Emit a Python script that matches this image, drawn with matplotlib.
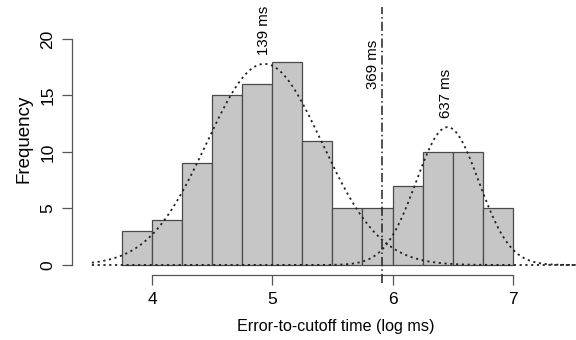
import numpy as np
import matplotlib
matplotlib.use("Agg")
import matplotlib.pyplot as plt

plt.rcParams['font.family'] = ['Liberation Sans', 'DejaVu Sans']

# Histogram data (log ms)
bin_edges = [3.75, 4.0, 4.25, 4.5, 4.75, 5.0, 5.25, 5.5, 5.75, 6.0, 6.25, 6.5, 6.75, 7.0]
counts = [3, 4, 9, 15, 16, 18, 11, 5, 5, 7, 10, 10, 5]

# Fitted normal components (mean in log ms, sd, peak height)
comp_means = [np.log(139), np.log(637)]
comp_sds = [0.48, 0.26]
comp_peaks = [17.8, 12.2]
comp_labels = ["139 ms", "637 ms"]
cutoff = np.log(369)
cutoff_label = "369 ms"

x_ticks = [4, 5, 6, 7]
y_ticks = [0, 5, 10, 15, 20]

fig = plt.figure(figsize=(5.76, 3.40), dpi=100)
ax = fig.add_axes([72/576, 57/340, 504/576, 276/340])
ax.set_xlim(3.335, 7.525)
ax.set_ylim(-1.593, 22.83)

lefts = bin_edges[:-1]
widths = np.diff(bin_edges)
ax.bar(lefts, counts, width=widths, align='edge', color='#c6c6c6',
       edgecolor='#4a4a4a', linewidth=0.9, zorder=2)

xs = np.linspace(3.5, 7.55, 400)
for m, s, p in zip(comp_means, comp_sds, comp_peaks):
    ys = p * np.exp(-0.5 * ((xs - m) / s) ** 2)
    ax.plot(xs, ys, color='#222222', linestyle=(0, (1.2, 2.0)), linewidth=1.3,
            zorder=3, clip_on=False)

ax.axvline(cutoff, color='#222222', linestyle=(0, (6, 2, 1, 2)), linewidth=1.1, zorder=4)

# Labels
ax.text(comp_means[0], 18.6, comp_labels[0], rotation=90, ha='center', va='bottom', fontsize=10.8)
ax.text(comp_means[1] - 0.01, 13.0, comp_labels[1], rotation=90, ha='center', va='bottom', fontsize=10.8)
ax.text(cutoff - 0.07, 15.6, cutoff_label, rotation=90, ha='center', va='bottom', fontsize=10.8)

# Axes styling (R-like)
for sp in ['top', 'right']:
    ax.spines[sp].set_visible(False)
ax.spines['left'].set_bounds(0, 20)
ax.spines['bottom'].set_bounds(4, 7)
ax.spines['bottom'].set_position(('data', -0.885))
for sp in ['left', 'bottom']:
    ax.spines[sp].set_color('#555555')
    ax.spines[sp].set_linewidth(0.9)

ax.set_xticks(x_ticks)
ax.set_yticks(y_ticks)
ax.set_yticklabels([str(v) for v in y_ticks], rotation=90, va='center')
ax.tick_params(axis='both', length=7, width=0.9, color='#555555', labelsize=12.5)
ax.tick_params(axis='x', pad=5)
ax.tick_params(axis='y', pad=5)

fig.text(336/576, 1 - 326/340, "Error-to-cutoff time (log ms)", ha='center', va='center', fontsize=11.6)
fig.text(24/576, 1 - 139/340, "Frequency", ha='center', va='center', rotation=90, fontsize=13.5)

fig.savefig("out.png", dpi=100)
